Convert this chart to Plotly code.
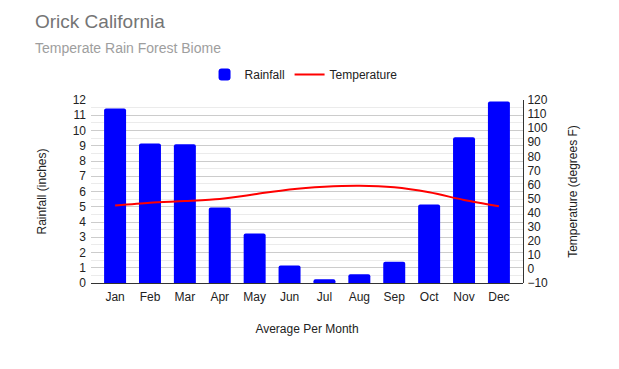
import plotly.graph_objects as go

months = ["Jan", "Feb", "Mar", "Apr", "May", "Jun", "Jul", "Aug", "Sep", "Oct", "Nov", "Dec"]
rainfall = [11.45, 9.15, 9.1, 4.95, 3.25, 1.15, 0.25, 0.58, 1.4, 5.15, 9.55, 11.9]
temperature = [45, 47, 48.2, 49.7, 53, 56.5, 58.4, 59.1, 58, 54.4, 49, 44.5]

font_family = "Liberation Sans, Arial, sans-serif"

fig = go.Figure()
fig.add_trace(go.Bar(x=months, y=rainfall, name="Rainfall", marker=dict(color="#0000ff", line=dict(width=0)), yaxis="y"))
fig.add_trace(go.Scatter(x=months, y=temperature, name="Temperature", mode="lines",
                         line=dict(color="#ff0000", width=2, shape="spline", smoothing=0.8), yaxis="y2"))

fig.update_layout(
    width=611, height=361,
    margin=dict(l=83, r=96, t=92, b=86),
    paper_bgcolor="white", plot_bgcolor="white",
    font=dict(family=font_family, size=12, color="#222222"),
    bargap=0.37,
    barcornerradius=2,
    showlegend=True,
    legend=dict(orientation="h", x=0.492, xanchor="center", y=1.14, yanchor="middle",
                font=dict(size=12, color="#222222"), bgcolor="rgba(0,0,0,0)"),
    xaxis=dict(showgrid=False, ticks="", showline=False, zeroline=False,
               range=[-0.69, 11.69],
               tickfont=dict(size=12, color="#222222"), ticklabelstandoff=5,
               title=dict(text="Average Per Month", font=dict(size=12, color="#222222"), standoff=21),
               automargin=False),
    yaxis=dict(range=[0, 12], dtick=1, showgrid=True, gridcolor="#cccccc", gridwidth=1,
               minor=dict(dtick=0.5, showgrid=True, gridcolor="#ebebeb"),
               zeroline=True, zerolinecolor="#333333", zerolinewidth=1,
               showline=False, ticks="", tickfont=dict(size=12, color="#222222"), ticklabelstandoff=4,
               title=dict(text="Rainfall (inches)", font=dict(size=12, color="#222222"), standoff=23),
               automargin=False),
    yaxis2=dict(range=[-10, 120], dtick=10, overlaying="y", side="right", showgrid=False,
                zeroline=False, showline=True, linecolor="#333333", linewidth=1, ticks="",
                tickfont=dict(size=12, color="#222222"), ticklabelstandoff=1,
                title=dict(text="Temperature (degrees F)", font=dict(size=12, color="#222222"), standoff=21),
                automargin=False),
    annotations=[
        dict(text="Orick California", xref="paper", yref="paper", x=-0.134, y=1.43,
             xanchor="left", yanchor="middle", showarrow=False,
             font=dict(size=19, color="#757575", family=font_family)),
        dict(text="Temperate Rain Forest Biome", xref="paper", yref="paper", x=-0.134, y=1.284,
             xanchor="left", yanchor="middle", showarrow=False,
             font=dict(size=14, color="#9e9e9e", family=font_family)),
    ],
)

fig.write_html("out.html")
